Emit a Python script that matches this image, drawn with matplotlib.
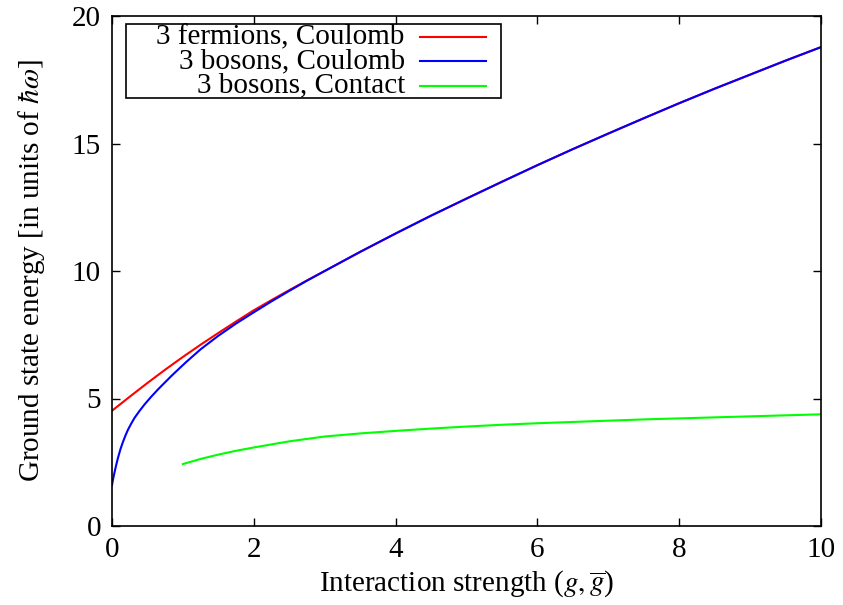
import matplotlib
matplotlib.use("Agg")
import matplotlib.pyplot as plt
from matplotlib.lines import Line2D
from matplotlib.patches import Rectangle

plt.rcParams['font.family'] = ['Liberation Serif', 'DejaVu Serif']
plt.rcParams['mathtext.fontset'] = 'stix'

# Ground state energies (units of hbar*omega) versus interaction strength
g_fermi = [0.0, 0.25, 0.5, 0.75, 1.0, 1.25, 1.5, 1.75, 2.0, 2.25, 2.5, 2.75, 3.0, 3.5, 4.0, 4.5,
           5.0, 5.5, 6.0, 6.5, 7.0, 7.5, 8.0, 8.5, 9.0, 9.5, 10.0]
e_fermi = [4.52, 5.07, 5.61, 6.13, 6.63, 7.11, 7.57, 8.02, 8.46, 8.86, 9.25, 9.63, 10.0, 10.75, 11.47, 12.17,
           12.84, 13.5, 14.15, 14.78, 15.39, 15.99, 16.58, 17.15, 17.70, 18.25, 18.78]

g_boson = [0.0, 0.01, 0.02, 0.04, 0.06, 0.085, 0.12, 0.155, 0.19, 0.226, 0.27, 0.32, 0.39, 0.46, 0.55,
           0.65, 0.75, 0.84, 0.95, 1.05, 1.25, 1.5, 1.75, 2.0, 2.25, 2.5, 2.75, 3.0, 3.5, 4.0, 4.5,
           5.0, 5.5, 6.0, 6.5, 7.0, 7.5, 8.0, 8.5, 9.0, 9.5, 10.0]
e_boson = [1.60, 1.76, 1.90, 2.16, 2.40, 2.68, 3.02, 3.30, 3.55, 3.78, 4.01, 4.25, 4.52, 4.77, 5.06,
           5.36, 5.64, 5.89, 6.18, 6.44, 6.93, 7.46, 7.94, 8.38, 8.81, 9.22, 9.62, 10.0, 10.75, 11.47, 12.17,
           12.84, 13.5, 14.15, 14.78, 15.39, 15.99, 16.58, 17.15, 17.70, 18.25, 18.78]

g_contact = [1.0, 1.25, 1.5, 1.75, 2.0, 2.5, 3.0, 3.5, 4.0, 4.5, 5.0, 5.5, 6.0, 6.5, 7.0, 7.5,
             8.0, 8.5, 9.0, 9.5, 10.0]
e_contact = [2.43, 2.63, 2.80, 2.95, 3.08, 3.32, 3.51, 3.63, 3.73, 3.82, 3.90, 3.97, 4.03, 4.08, 4.13, 4.18,
             4.22, 4.26, 4.30, 4.34, 4.38]

labels = ["3 fermions, Coulomb", "3 bosons, Coulomb", "3 bosons, Contact"]
colors = ["#ff0000", "#0000ff", "#00ff00"]

x_ticks = [0, 2, 4, 6, 8, 10]
y_ticks = [0, 5, 10, 15, 20]

FS = 21

fig = plt.figure(figsize=(8.43, 6.05), dpi=100)
ax = fig.add_axes([112 / 843, 79 / 605, 709 / 843, 510 / 605])

series = [(g_fermi, e_fermi), (g_boson, e_boson), (g_contact, e_contact)]
for (gx, ey), c in zip(series, colors):
    ax.plot(gx, ey, color=c, lw=1.5, solid_joinstyle='round')

ax.set_xlim(0, 10)
ax.set_ylim(0, 20)
ax.set_xticks(x_ticks)
ax.set_yticks(y_ticks)
ax.tick_params(direction='in', length=6, width=1.0, top=True, right=True,
               labelsize=FS, pad=8)
for s in ax.spines.values():
    s.set_linewidth(1.2)

ax.set_xlabel(r"Interaction strength ($g, \overline{g}$)", fontsize=FS, labelpad=4)
ax.set_ylabel(r"Ground state energy [in units of $\hbar\omega$]", fontsize=FS, labelpad=18)

# key box: right-justified text followed by a line sample
ax.add_patch(Rectangle((0.0197, 0.839), 0.529, 0.145, transform=ax.transAxes,
                       fill=False, edgecolor='black', lw=1.2, zorder=5))
rows = [0.959, 0.912, 0.863]
for lab, c, yr in zip(labels, colors, rows):
    ax.text(0.413, yr, lab, transform=ax.transAxes, ha='right', va='center',
            fontsize=FS, zorder=6)
    ax.add_line(Line2D([0.434, 0.528], [yr, yr], transform=ax.transAxes,
                       color=c, lw=1.5, zorder=6))

fig.savefig("out.png", dpi=100)
